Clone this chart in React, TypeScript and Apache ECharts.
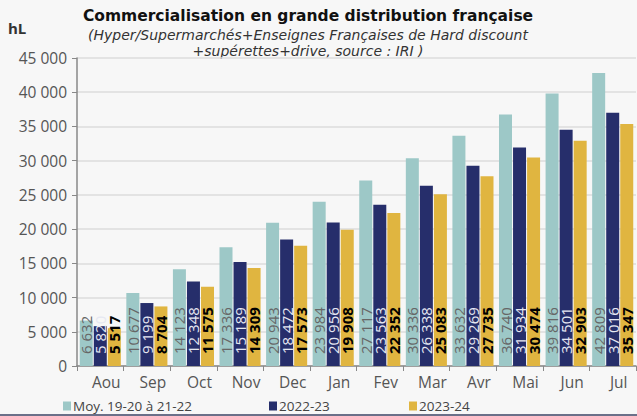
import React, { useEffect, useRef } from "react";
import * as echarts from "echarts";

const months = ["Aou", "Sep", "Oct", "Nov", "Dec", "Jan", "Fev", "Mar", "Avr", "Mai", "Jun", "Jul"];
const seriesNames = ["Moy. 19-20 à 21-22", "2022-23", "2023-24"];
const avg1922 = [6632, 10677, 14123, 17336, 20943, 23984, 27117, 30336, 33632, 36740, 39816, 42809];
const s2223 = [5820, 9199, 12348, 15189, 18472, 20956, 23563, 26338, 29269, 31934, 34501, 37016];
const s2324 = [5517, 8704, 11575, 14309, 17573, 19908, 22352, 25083, 27735, 30474, 32903, 35347];

const titleText = "Commercialisation en grande distribution française";
const subLine1 = "(Hyper/Supermarchés+Enseignes Françaises de Hard discount";
const subLine2 = "+supérettes+drive, source : IRI )";

const FONT = "'Open Sans', 'Noto Sans', sans-serif";
const TFONT = "'DejaVu Sans', sans-serif";
const fmt = (v: number) => String(Math.round(v)).replace(/\B(?=(\d{3})+(?!\d))/g, " ");

export default function App() {
  const ref = useRef<HTMLDivElement>(null);
  useEffect(() => {
    document.body.style.margin = "0";
    const chart = echarts.init(ref.current!, null, { renderer: "svg" });
    const colors = ["#9dc8c7", "#262e6b", "#e0b540"];
    const labelColors = ["#666666", "#e6e8f2", "#000000"];
    const labelWeights = ["normal", "normal", "bold"];
    const datas = [avg1922, s2223, s2324];
    chart.setOption({
      animation: false,
      backgroundColor: "#f7f7f7",
      textStyle: { fontFamily: FONT },
      grid: { left: 77, right: 1, top: 58, bottom: 50, containLabel: false },
      graphic: [
        { type: "text", x: 8, y: 28, style: { text: "hL", fontFamily: FONT, fontWeight: "bold", fontSize: 15, fill: "#333", textVerticalAlign: "middle", lineHeight: 16 } },
        { type: "text", x: 308, y: 16, style: { text: titleText, fontFamily: TFONT, fontWeight: "bold", fontSize: 15.5, fill: "#111", textAlign: "center", textVerticalAlign: "middle", lineHeight: 17 } },
        { type: "text", x: 308, y: 34.5, style: { text: subLine1, fontFamily: TFONT, fontStyle: "italic", fontSize: 14, fill: "#333", textAlign: "center", textVerticalAlign: "middle", lineHeight: 16 } },
        { type: "text", x: 308, y: 51, style: { text: subLine2, fontFamily: TFONT, fontStyle: "italic", fontSize: 14, fill: "#333", textAlign: "center", textVerticalAlign: "middle", lineHeight: 16 } },
        { type: "rect", shape: { x: 0, y: 414, width: 637, height: 2 }, style: { fill: "#6b7089" } },
      ],
      legend: [0, 1, 2].map((i) => ({
        data: [seriesNames[i]],
        left: [58, 264, 404][i],
        top: 394,
        itemWidth: 8,
        itemHeight: 9,
        icon: "rect",
        textStyle: { fontFamily: FONT, fontSize: 13.5, color: "#444", padding: [0, 0, 0, -3] },
      })),
      xAxis: {
        type: "category",
        data: months,
        axisLine: { lineStyle: { color: "#888", width: 1.5 } },
        axisTick: { show: true, length: 5, lineStyle: { color: "#888" } },
        axisLabel: { color: "#555", fontSize: 15.5, fontFamily: FONT, margin: 8, padding: [0, 0, 0, 12] },
      },
      yAxis: {
        type: "value",
        min: 0,
        max: 45000,
        interval: 5000,
        axisLine: { show: true, lineStyle: { color: "#888", width: 1.5 } },
        axisTick: { show: true, length: 5, lineStyle: { color: "#888" } },
        axisLabel: { color: "#555", fontSize: 15.5, fontFamily: FONT, margin: 10, formatter: (v: number) => fmt(v) },
        splitLine: { lineStyle: { color: "#dcdcdc", width: 1.5 } },
      },
      series: datas.map((d, i) => ({
        name: seriesNames[i],
        type: "bar",
        data: d,
        barWidth: 13,
        barGap: "8%",
        itemStyle: { color: colors[i] },
        label: {
          show: true,
          position: "insideBottom",
          rotate: 90,
          align: "left",
          verticalAlign: "middle",
          distance: 12,
          fontFamily: FONT,
          fontSize: 15,
          fontWeight: labelWeights[i],
          color: labelColors[i],
          formatter: (p: any) => fmt(p.value),
        },
      })),
    });
    return () => chart.dispose();
  }, []);
  return <div ref={ref} style={{ position: "absolute", left: 0, top: 0, width: 637, height: 416 }} />;
}
